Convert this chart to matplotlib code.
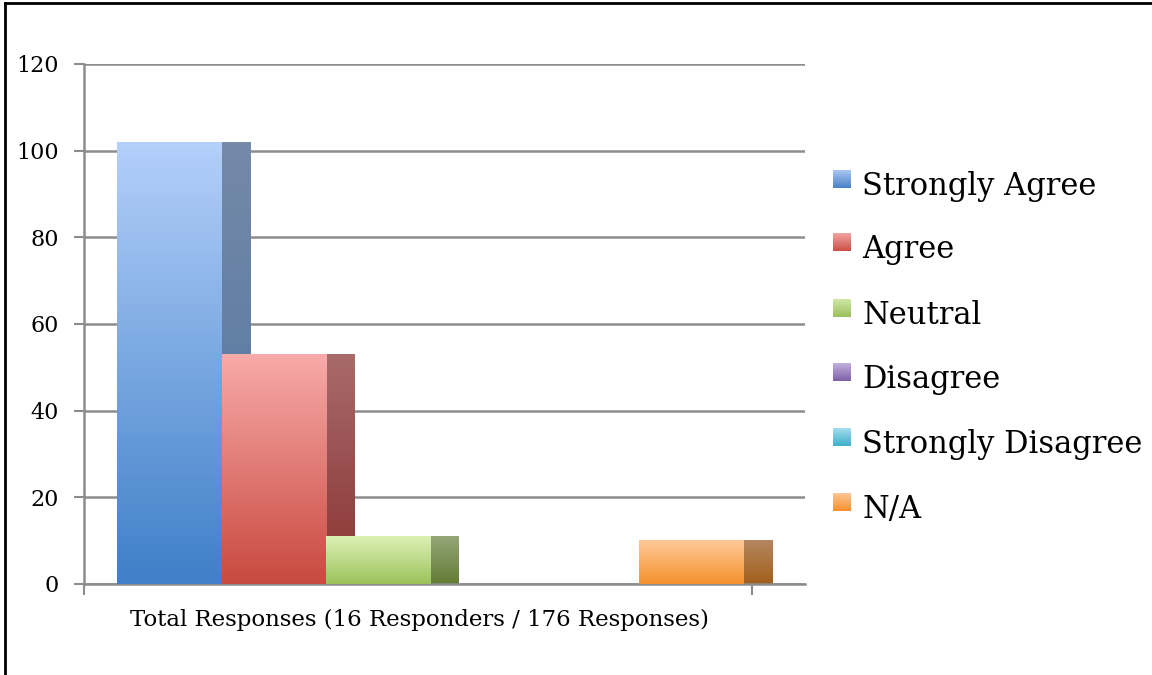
import numpy as np
import matplotlib
matplotlib.use("Agg")
import matplotlib.pyplot as plt
from matplotlib.colors import LinearSegmentedColormap
from matplotlib.lines import Line2D

plt.rcParams['font.family'] = ['DejaVu Serif']

# data
categories = ['Strongly Agree', 'Agree', 'Neutral', 'Disagree', 'Strongly Disagree', 'N/A']
values = [102, 53, 11, 0, 0, 10]
x_label = 'Total Responses (16 Responders / 176 Responses)'
y_ticks = [0, 20, 40, 60, 80, 100, 120]

# (front top, front bottom, side top, side bottom)
palette = [
    ('#b3cffa', '#3f80c8', '#7589a8', '#4b73a0'),
    ('#f8aaa9', '#c94a40', '#a86a6a', '#8a3232'),
    ('#dbf2b5', '#9dc25c', '#94a677', '#627c35'),
    ('#c9b5e3', '#7d5fa8', '#8c7ba3', '#5a4480'),
    ('#ade3f2', '#3fb1cc', '#7fa6b3', '#2f8399'),
    ('#ffc898', '#f5922e', '#b48660', '#a2601c'),
]
legend_top = ['#a9c6f2', '#f2a3a1', '#cfe7a6', '#c2b0dc', '#a3dcee', '#ffc594']
legend_bot = ['#4a82c8', '#cc4f47', '#9cc05c', '#7d61a9', '#3fb0cc', '#f5922e']

fig = plt.figure(figsize=(11.52, 6.75), dpi=100)
ax = fig.add_axes([84/1152, 1 - 584/675, (805-84)/1152, (584-64)/675])

# bars: gradient front face + darker side strip tucked behind the next bar
depth = 0.268
grad = np.linspace(0, 1, 64).reshape(-1, 1)
for i, (v, cols) in enumerate(zip(values, palette)):
    if v <= 0:
        continue
    cm_front = LinearSegmentedColormap.from_list('f', [cols[1], cols[0]])
    cm_side = LinearSegmentedColormap.from_list('s', [cols[3], cols[2]])
    ax.imshow(grad, cmap=cm_front, extent=[i, i + 1, 0, v], origin='lower',
              aspect='auto', zorder=3, interpolation='bilinear')
    ax.imshow(grad, cmap=cm_side, extent=[i + 1, i + 1 + depth, 0, v], origin='lower',
              aspect='auto', zorder=2, interpolation='bilinear')

ax.set_xlim(-0.316, 6.584)
ax.set_ylim(0, 120)
ax.set_yticks(y_ticks)
ax.set_yticklabels([str(t) for t in y_ticks], fontsize=16)
ax.set_xticks([-0.316, 6.077])
ax.set_xticklabels([])
ax.tick_params(axis='y', length=7, width=1.5, color='#8c8c8c', pad=11)
ax.tick_params(axis='x', length=8, width=1.5, color='#8c8c8c')
ax.grid(axis='y', color='#8c8c8c', linewidth=1.8, zorder=0)
ax.set_axisbelow(True)
for s in ['top', 'right']:
    ax.spines[s].set_visible(False)
for s in ['left', 'bottom']:
    ax.spines[s].set_color('#8c8c8c')
    ax.spines[s].set_linewidth(1.8)

fig.text(130/1152, 1 - 620/675, x_label, fontsize=16.5, va='center', ha='left')

# legend (pixel rows of text baselines)
baselines = [195, 258, 324, 388, 453, 518]
lgrad = np.linspace(0, 1, 32).reshape(-1, 1)
for name, ct, cb, yb in zip(categories, legend_top, legend_bot, baselines):
    top = yb - 25
    lax = fig.add_axes([833/1152, 1 - (top + 18)/675, 18/1152, 18/675])
    lax.imshow(lgrad, cmap=LinearSegmentedColormap.from_list('l', [cb, ct]),
               origin='lower', aspect='auto', interpolation='bilinear')
    lax.axis('off')
    fig.text(862/1152, 1 - yb/675, name, fontsize=22, va='baseline', ha='left')

# frame border
fig.add_artist(Line2D([5/1152, 5/1152], [0, 1 - 3/675], color='black', lw=2, transform=fig.transFigure))
fig.add_artist(Line2D([5/1152, 1], [1 - 3/675, 1 - 3/675], color='black', lw=2, transform=fig.transFigure))

fig.savefig('out.png', dpi=100)
